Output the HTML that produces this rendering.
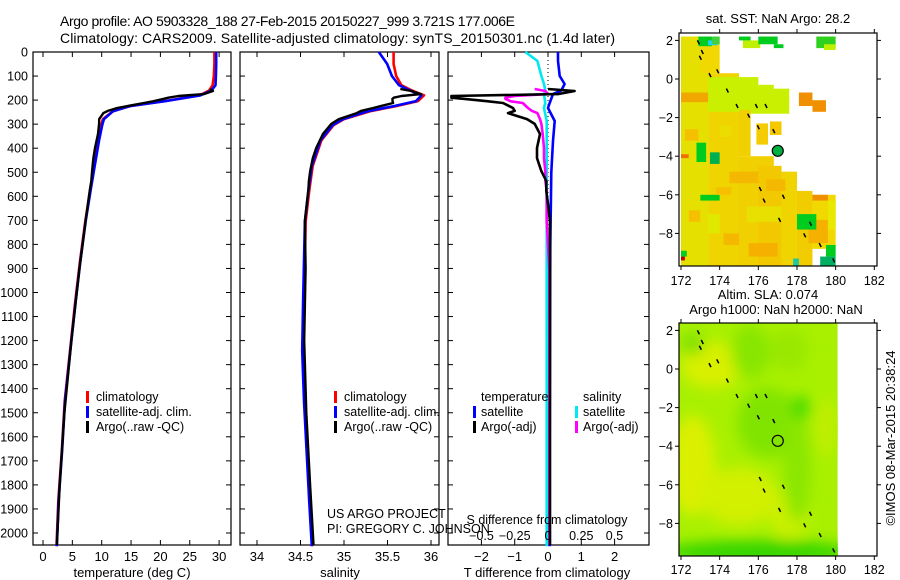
<!DOCTYPE html>
<html><head><meta charset="utf-8"><style>
html,body{margin:0;padding:0;background:#fff;}
svg{display:block;font-family:"Liberation Sans",sans-serif;}
</style></head><body>
<svg id="fig" width="900" height="580" viewBox="0 0 900 580" xmlns="http://www.w3.org/2000/svg">
<defs>
<filter id="blur" x="-50%" y="-50%" width="200%" height="200%"><feGaussianBlur stdDeviation="7"/></filter>
<clipPath id="clipSla"><rect x="679" y="323" width="159" height="233"/></clipPath>
</defs>
<text x="60" y="26" font-size="14" textLength="455">Argo profile: AO 5903328_188 27-Feb-2015 20150227_999 3.721S 177.006E</text>
<text x="60" y="43" font-size="14" textLength="555">Climatology: CARS2009. Satellite-adjusted climatology: synTS_20150301.nc (1.4d later)</text>
</svg>
<script>
// ---------- data ----------
const climDepths = [0,50,100,138,160,180,204,225,246,279,304,367,474,578,703,869,1035,1243,1451,1659,1867,2055];
const climTemp = [29.2,29.2,29.1,28.9,28.3,26.7,20.8,14.8,11.9,10.2,9.9,9.4,8.7,8.0,7.2,6.3,5.5,4.6,3.7,3.2,2.6,2.3];
const climSal = [35.57,35.57,35.6,35.66,35.78,35.92,35.85,35.6,35.3,35.0,34.88,34.74,34.64,34.6,34.56,34.55,34.54,34.53,34.55,34.58,34.61,34.64];
const satDepths = [0,37,100,133,160,175,212,233,287,370,500,800,1200,1600,2055];
const satTDiff = [0.3,0.3,0.35,0.5,0.4,0.15,0.05,0,0.2,0.15,0.1,0.07,0.06,0.05,0.05];
const satSDiff = [-0.17,-0.08,-0.05,-0.03,-0.02,-0.03,-0.02,-0.03,-0.01,-0.01,-0.01,-0.01,-0.01,-0.01,-0.01];
const argoDepths = [154,162,175,183,190,195,205,212,233,245,254,279,299,341,399,441,495,536,578,632,703,900,1200,1500,1800,2050];
const argoTDiff = [0.0,0.8,0.3,-2.9,-2.9,-2.5,-1.8,-1.35,-1.05,-1.0,-1.2,-0.63,-0.4,-0.24,-0.33,-0.33,-0.2,-0.05,-0.05,0,0.06,0.06,0.06,0.06,0.06,0.06];
const argoSDiff = [-0.1,-0.02,0,-0.25,-0.32,-0.32,-0.28,-0.19,-0.15,-0.12,-0.08,-0.06,-0.05,-0.04,-0.03,-0.03,-0.02,-0.02,-0.01,-0.01,-0.01,0.01,0.01,0.01,0.01,0.01];
const depthTicks = [0,100,200,300,400,500,600,700,800,900,1000,1100,1200,1300,1400,1500,1600,1700,1800,1900,2000];
const tempTicks = [0,5,10,15,20,25,30];
const salTicks = [34,34.5,35,35.5,36];
const tDiffTicks = [-2,-1,0,1,2];
const sDiffTicks = [-0.5,-0.25,0,0.25,0.5];
const sDiffTickLabels = ["\u22120.5","\u22120.25","0","0.25","0.5"];
const lonTicks = [172,174,176,178,180,182];
const latTicks = [2,0,-2,-4,-6,-8];
// SST map blocks: lon1, lon2, latTop, latBottom, colour
const sstBlocks = [
 [172,173.4,2.2,-9.7,"#e6e000"],[173.0,174.0,2.2,0.3,"#f0d800"],[173.4,175.0,0.3,-9.7,"#f0d400"],
 [172.9,173.6,2.2,1.7,"#00cc20"],[173.4,173.9,2.0,1.75,"#20d0f0"],[173.6,174.0,2.2,1.8,"#40d040"],
 [175.2,176.1,2.0,1.6,"#c0f000"],[176.0,177.0,2.2,1.8,"#00cc20"],[176.8,177.3,1.8,1.6,"#00cc20"],
 [179.0,180.0,2.2,1.6,"#30d020"],[179.4,180.0,1.8,1.5,"#c0f000"],[175.0,175.6,2.2,2.0,"#00cc20"],
 [173.4,176.0,0.1,-1.7,"#c8f000"],[175.6,177.6,-0.5,-1.8,"#c8f000"],[176.0,176.8,-0.3,-0.9,"#c8f000"],
 [178.1,178.8,-0.7,-1.4,"#f09000"],[178.8,179.5,-1.1,-1.7,"#f09000"],[172,173.4,-0.7,-1.2,"#f0a800"],
 [175.0,175.6,-1.6,-4.0,"#f0d000"],[175.9,176.5,-2.3,-3.4,"#f5cc00"],[176.6,177.2,-2.2,-2.9,"#f5c800"],
 [175.0,176.8,-4.0,-9.7,"#f0d000"],[176.0,177.2,-4.5,-9.7,"#f2c800"],[177.2,178.0,-4.8,-9.7,"#f0d400"],
 [178.0,178.8,-5.8,-9.7,"#f0cc00"],[178.8,180.0,-6.0,-8.8,"#f0d800"],[178.8,179.6,-6.0,-6.3,"#f09000"],
 [179.6,180.0,-6.3,-7.8,"#e8e800"],[178.6,179.6,-7.3,-8.5,"#f5b000"],
 [172.8,173.3,-3.3,-4.3,"#00cc20"],[173.5,174.0,-3.8,-4.4,"#00b050"],[173.0,174.0,-6.0,-6.3,"#00cc20"],
 [178.0,179.0,-7.0,-7.8,"#00cc20"],[179.5,180.0,-8.6,-9.2,"#00cc20"],[179.2,180.0,-9.2,-9.7,"#00b060"],
 [177.8,178.1,-9.3,-9.7,"#20c8a0"],[172,172.4,-3.9,-4.1,"#f07000"],[172,172.2,-9.2,-9.4,"#c00000"],
 [174.5,176.0,-4.8,-5.4,"#f5b800"],[175.5,177.0,-8.5,-9.2,"#f5b000"],[172,172.3,-8.9,-9.2,"#00cc20"],
 [175.4,177.2,-6.6,-7.4,"#e8e000"],[173.4,174.0,-7.0,-8.0,"#e0e800"],
 [172.2,172.9,-2.6,-3.2,"#f5c000"],[173.8,174.6,-5.6,-6.0,"#f5c000"],[174.2,175.0,-8.0,-8.6,"#f5b800"],
 [176.4,177.4,-5.2,-5.8,"#f5b800"],[172.4,173.0,-6.8,-7.4,"#f5c000"],[174.0,174.6,-2.4,-3.0,"#ecdc00"]
];
// SLA map smooth patches: lon, lat, rlon, rlat, colour
const slaBlobs = [
 [173.6,0.2,1.6,1.2,"#d8f000"],[172.6,-5,1.2,2.6,"#daf000"],[175,-6.6,2,1.5,"#d2f000"],[177.6,-7.5,1,1.3,"#ccf000"],
 [176.5,-2.8,1.6,1.8,"#80e400"],[175.6,0.9,1,1.4,"#88e600"],[178,-5,0.7,3,"#8ae600"],[178.2,-2,0.5,0.6,"#44dc00"],
 [177.6,1.0,1,1.1,"#9ae800"],[176,-9.5,5,0.6,"#30d400"],[172.6,1.3,0.6,0.6,"#80e000"],[179.5,-3,0.6,1.5,"#c0ee00"]
];
const coastLon = [172.9,173.1,173.0,173.5,173.9,174.4,174.9,175.5,175.9,176.4,176.0,176.8,176.1,176.3,177.3,177.1,178.4,178.7,179.2,179.9];
const coastLat = [1.9,1.4,1.1,0.2,0.4,-0.6,-1.4,-1.9,-1.4,-1.4,-2.5,-2.7,-5.7,-6.3,-6.1,-7.3,-8.1,-7.5,-8.6,-9.4];
const floatLon = 177.006, floatLat = -3.721;

// ---------- helpers ----------
const NS = "http://www.w3.org/2000/svg";
const svg = document.getElementById("fig");
function mk(tag, attrs, parent){const e=document.createElementNS(NS,tag);for(const k in attrs)e.setAttribute(k,attrs[k]);(parent||svg).appendChild(e);return e;}
function interp(xs, ys, x){if(x<=xs[0])return ys[0];for(let i=1;i<xs.length;i++){if(x<=xs[i]){const t=(x-xs[i-1])/(xs[i]-xs[i-1]);return ys[i-1]+t*(ys[i]-ys[i-1]);}}return ys[ys.length-1];}
const TOP=52, BOT=545;
const yD = d => TOP + d*0.2405;
function linePath(xs, ys){return xs.map((x,i)=>(i?"L":"M")+x.toFixed(1)+" "+ys[i].toFixed(1)).join(" ");}

function panelFrame(x0, x1, name, ticks, xf, labels, showY){
  const g = mk("g",{});
  
  
  const r = mk("rect",{x:x0,y:TOP,width:x1-x0,height:BOT-TOP,fill:"none",stroke:"#000","stroke-width":1.2},g);
  
  
  depthTicks.forEach(d=>{
    mk("line",{x1:x0,x2:x0+5,y1:yD(d),y2:yD(d),stroke:"#000"},g);
    mk("line",{x1:x1-5,x2:x1,y1:yD(d),y2:yD(d),stroke:"#000"},g);
    if(showY){const t=mk("text",{x:x0-5,y:yD(d)+4.5,"font-size":12.5,"text-anchor":"end"},g);t.textContent=d;
      
      }
  });
  ticks.forEach((v,i)=>{
    const x=xf(v);
    mk("line",{x1:x,x2:x,y1:TOP,y2:TOP+5,stroke:"#000"},g);
    mk("line",{x1:x,x2:x,y1:BOT-5,y2:BOT,stroke:"#000"},g);
    const t=mk("text",{x:x,y:561,"font-size":13,"text-anchor":"middle"},g);t.textContent=labels[i];
    
    
  });
  return g;
}
function curve(g, xs, ys, color, name, w){
  const p = mk("path",{d:linePath(xs,ys),fill:"none",stroke:color,"stroke-width":w||2.6,"stroke-linejoin":"round"},g);
  
  
}
function txt(x,y,s,size,name,anchor){const t=mk("text",{x:x,y:y,"font-size":size,"text-anchor":anchor||"start"});t.textContent=s;
  
  return t;}
function legBar(x,y,color,name){const r=mk("rect",{x:x,y:y-10,width:3,height:12,fill:color});
  
  }

// ---------- panel 1 temperature ----------
const xT = v => 43 + v*5.87;
const g1 = panelFrame(33,231,"temperature-panel",tempTicks,xT,tempTicks.map(String),true);
curve(g1, climTemp.map(xT), climDepths.map(yD), "#ff0000", "temp-climatology-line");
curve(g1, climDepths.map((d,i)=>xT(climTemp[i]+interp(satDepths,satTDiff,d))), climDepths.map(yD), "#0000ff", "temp-satellite-line");
curve(g1, argoDepths.map((d,i)=>xT(interp(climDepths,climTemp,d)+argoTDiff[i])), argoDepths.map(yD), "#000000", "temp-argo-line", 2.4);
txt(132,577,"temperature (deg C)",13,"temperature-axis-title","middle");
legBar(86,401,"#ff0000","legend-climatology-swatch");txt(96,401,"climatology",12.5,"legend-climatology-label");
legBar(86,416,"#0000ff","legend-satellite-swatch");txt(96,416,"satellite-adj. clim.",12.5,"legend-satellite-label");
legBar(86,431,"#000000","legend-argo-swatch");txt(96,431,"Argo(..raw -QC)",12.5,"legend-argo-label");

// ---------- panel 2 salinity ----------
const xS = v => 257 + (v-34)*87;
const g2 = panelFrame(240,439,"salinity-panel",salTicks,xS,salTicks.map(String),false);
curve(g2, climSal.map(xS), climDepths.map(yD), "#ff0000", "sal-climatology-line");
curve(g2, climDepths.map((d,i)=>xS(climSal[i]+interp(satDepths,satSDiff,d))), climDepths.map(yD), "#0000ff", "sal-satellite-line");
curve(g2, argoDepths.map((d,i)=>xS(interp(climDepths,climSal,d)+argoSDiff[i])), argoDepths.map(yD), "#000000", "sal-argo-line", 2.4);
txt(340,577,"salinity",13,"salinity-axis-title","middle");
legBar(334,401,"#ff0000","legend2-climatology-swatch");txt(344,401,"climatology",12.5,"legend2-climatology-label");
legBar(334,416,"#0000ff","legend2-satellite-swatch");txt(344,416,"satellite-adj. clim.",12.5,"legend2-satellite-label");
legBar(334,431,"#000000","legend2-argo-swatch");txt(344,431,"Argo(..raw -QC)",12.5,"legend2-argo-label");

// ---------- panel 3 differences ----------
const xTd = v => 548 + v*33.3;
const xSd = v => 548 + v*133;
const g3 = panelFrame(448,649,"difference-panel",tDiffTicks,xTd,tDiffTicks.map(v=>v<0?"\u2212"+(-v):String(v)),false);
const zl = mk("line",{x1:548,x2:548,y1:TOP,y2:BOT,stroke:"#000","stroke-dasharray":"1,3"},g3);


curve(g3, satSDiff.map(xSd), satDepths.map(yD), "#00e8f0", "sdiff-satellite-line");
curve(g3, satTDiff.map(xTd), satDepths.map(yD), "#0000ff", "tdiff-satellite-line");
curve(g3, argoSDiff.map(xSd), argoDepths.map(yD), "#ff00ff", "sdiff-argo-line");
curve(g3, argoTDiff.map(xTd), argoDepths.map(yD), "#000000", "tdiff-argo-line");
txt(481,401,"temperature",12.5,"legend3-temperature-heading");txt(583,401,"salinity",12.5,"legend3-salinity-heading");
legBar(473,416,"#0000ff","legend3-tsat-swatch");txt(481,416,"satellite",12.5,"legend3-tsat-label");
legBar(575,416,"#00e8f0","legend3-ssat-swatch");txt(583,416,"satellite",12.5,"legend3-ssat-label");
legBar(473,431,"#000000","legend3-targo-swatch");txt(481,431,"Argo(-adj)",12.5,"legend3-targo-label");
legBar(575,431,"#ff00ff","legend3-sargo-swatch");txt(583,431,"Argo(-adj)",12.5,"legend3-sargo-label");
txt(327,518,"US ARGO PROJECT",12.5,"project-label");
txt(327,533,"PI: GREGORY C. JOHNSON",12.5,"pi-label");
txt(547,524,"S difference from climatology",12.5,"s-diff-axis-title","middle");
sDiffTicks.forEach((v,i)=>txt(xSd(v),540,sDiffTickLabels[i],12.5,"s-diff-tick-label","middle"));
txt(547,577,"T difference from climatology",13,"t-diff-axis-title","middle");

// ---------- maps ----------
function mapFrame(name){
  const g=mk("g",{});
  
  
  return g;
}
function drawMapAxes(g, y0, lonf, latf, labelY){
  const r=mk("rect",{x:679,y:y0,width:198,height:233,fill:"none",stroke:"#000","stroke-width":1.2},g);
  
  
  lonTicks.forEach(v=>{const x=lonf(v);mk("line",{x1:x,x2:x,y1:y0,y2:y0-4,stroke:"#000"},g);mk("line",{x1:x,x2:x,y1:y0+233,y2:y0+237,stroke:"#000"},g);
    const t=mk("text",{x:x,y:labelY,"font-size":12.5,"text-anchor":"middle"},g);t.textContent=v;
    
    });
  latTicks.forEach(v=>{const y=latf(v);mk("line",{x1:675,x2:679,y1:y,y2:y,stroke:"#000"},g);mk("line",{x1:877,x2:881,y1:y,y2:y,stroke:"#000"},g);
    const t=mk("text",{x:673,y:y+4.5,"font-size":12.5,"text-anchor":"end"},g);t.textContent=v<0?"\u2212"+(-v):v;
    
    });
}
function drawCoast(g, lonf, latf){
  coastLon.forEach((lo,i)=>{const x=lonf(lo),y=latf(coastLat[i]);
    const c=mk("path",{d:`M${x-1} ${y-2} L${x+1} ${y+2}`,stroke:"#000","stroke-width":1.5,fill:"none"},g);
    
    });
}
// top SST map
const lonA = v => 681 + (v-172)*19.33;
const latA = v => 79 - v*19.3;
const gm1 = mapFrame("sst-map");
sstBlocks.forEach(b=>{
  const c=mk("rect",{x:lonA(b[0]),y:latA(b[2]),width:lonA(b[1])-lonA(b[0]),height:latA(b[3])-latA(b[2]),fill:b[4]},gm1);
  
  
});
drawCoast(gm1, lonA, latA);
const fm1=mk("circle",{cx:lonA(floatLon),cy:latA(floatLat),r:5.5,fill:"#00b040",stroke:"#000","stroke-width":1.2},gm1);


drawMapAxes(gm1, 33, lonA, latA, 285);
txt(778,23,"sat. SST: NaN Argo: 28.2",13,"sst-map-title","middle");
// bottom SLA map
const latB = v => 369 - v*19.3;
const gm2 = mapFrame("sla-map");
const bg=mk("rect",{x:lonA(172)-2,y:323,width:lonA(180.1)-lonA(172)+2,height:233,fill:"#a8f000"},gm2);


const gb=mk("g",{"clip-path":"url(#clipSla)"},gm2);
const gbb=mk("g",{filter:"url(#blur)"},gb);
slaBlobs.forEach(b=>{
  const e=mk("ellipse",{cx:lonA(b[0]),cy:latB(b[1]),rx:b[2]*19.33,ry:b[3]*19.3,fill:b[4]},gbb);
  
  
});
drawCoast(gm2, lonA, latB);
const fm2=mk("circle",{cx:lonA(floatLon),cy:latB(floatLat),r:5.5,fill:"none",stroke:"#000","stroke-width":1.2},gm2);


drawMapAxes(gm2, 323, lonA, latB, 574);
txt(768,299,"Altim. SLA: 0.074",13,"sla-map-title-1","middle");
txt(776,314,"Argo h1000: NaN h2000: NaN",13,"sla-map-title-2","middle");
const cr=txt(0,0,"\u00a9IMOS 08-Mar-2015 20:38:24",13,"imos-timestamp","middle");
cr.setAttribute("transform","translate(895,438) rotate(-90)");
</script>
</body></html>
